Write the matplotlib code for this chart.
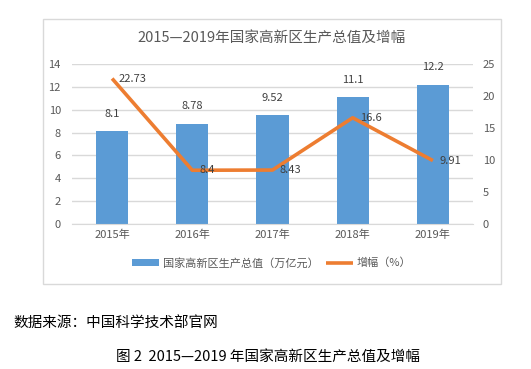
import matplotlib.pyplot as plt
from matplotlib.patches import Rectangle

plt.rcParams["font.family"] = ["Noto Sans CJK SC", "DejaVu Sans"]

years = ["2015年", "2016年", "2017年", "2018年", "2019年"]
gdp = [8.1, 8.78, 9.52, 11.1, 12.2]          # 万亿元
growth = [22.73, 8.4, 8.43, 16.6, 9.91]     # %
gdp_labels = ["8.1", "8.78", "9.52", "11.1", "12.2"]
growth_labels = ["22.73", "8.4", "8.43", "16.6", "9.91"]

BLUE = "#5B9BD5"
ORANGE = "#ED7D31"
GRID = "#D9D9D9"
TXT = "#595959"

W, H = 531, 369
fig = plt.figure(figsize=(W / 100, H / 100), dpi=100)

# chart frame
fig.add_artist(Rectangle((43 / W, 1 - 284 / H), (501 - 43) / W, (284 - 19) / H,
                         transform=fig.transFigure, fill=False,
                         edgecolor="#D9D9D9", linewidth=1))

ax = fig.add_axes([72 / W, 1 - 224 / H, (473 - 72) / W, (224 - 64) / H])
ax2 = ax.twinx()

x = list(range(len(years)))
bars = ax.bar(x, gdp, width=0.4, color=BLUE, zorder=2, label="国家高新区生产总值（万亿元）")
ax.set_ylim(0, 14)
ax.set_yticks(range(0, 15, 2))
ax.set_xlim(-0.5, len(years) - 0.5)
ax.set_xticks(x)
ax.set_xticklabels(years)
ax.grid(axis="y", color=GRID, linewidth=1, zorder=0)
ax.set_axisbelow(True)

line, = ax2.plot(x, growth, color=ORANGE, linewidth=2.6, solid_capstyle="butt",
                 zorder=3, label="增幅（%）")
ax2.set_ylim(0, 25)
ax2.set_yticks(range(0, 26, 5))

for a in (ax, ax2):
    for s in a.spines.values():
        s.set_visible(False)
    a.tick_params(length=0, labelsize=8, colors=TXT)
ax.tick_params(axis="y", pad=8)
ax2.tick_params(axis="y", pad=7)
ax.tick_params(axis="x", pad=4)
ax.spines["bottom"].set_visible(True)
ax.spines["bottom"].set_color(GRID)

for xi, v, lab in zip(x, gdp, gdp_labels):
    ax.annotate(lab, (xi, v), xytext=(0, 9), textcoords="offset points",
                ha="center", va="bottom", fontsize=8, color="#404040")
for xi, v, lab in zip(x, growth, growth_labels):
    ax2.annotate(lab, (xi, v), xytext=(5, 0), textcoords="offset points",
                 ha="left", va="center", fontsize=8, color="#404040")

fig.text(272 / W, 1 - 38 / H, "2015—2019年国家高新区生产总值及增幅",
         ha="center", va="center", fontsize=10.5, color=TXT)

fig.legend(handles=[bars, line], loc="center", bbox_to_anchor=(272 / W, 1 - 263 / H),
           ncol=2, frameon=False, fontsize=8, labelcolor=TXT,
           handlelength=2.4, handletextpad=0.4, columnspacing=0.6)

fig.text(13 / W, 1 - 323 / H, "数据来源：中国科学技术部官网",
         ha="left", va="center", fontsize=10.5, color="black")
fig.text(268 / W, 1 - 357 / H, "图 2  2015—2019 年国家高新区生产总值及增幅",
         ha="center", va="center", fontsize=10.5, color="black")

fig.savefig("out.png", dpi=100)
